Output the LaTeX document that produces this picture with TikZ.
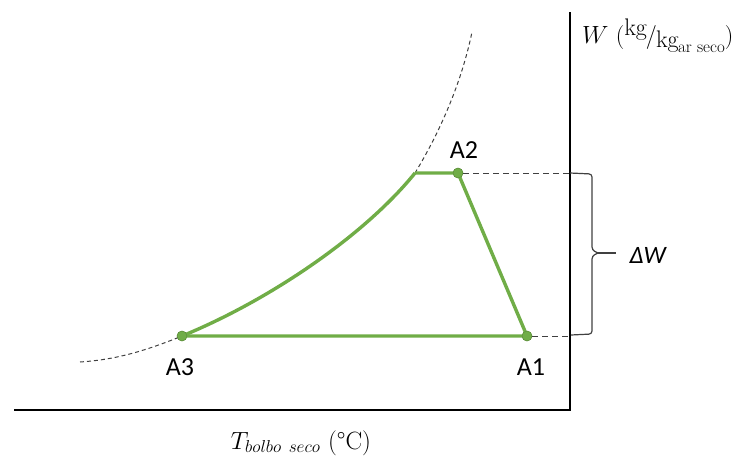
\documentclass[tikz,border=0pt]{standalone}
\usepackage{fontspec}
\setsansfont{Carlito}
\usepackage{amsmath}
\usetikzlibrary{positioning,calc}
\definecolor{leafgreen}{HTML}{70AD47}
\definecolor{dashgrey}{HTML}{404040}

\begin{document}
\begin{tikzpicture}[x=1pt,y=-1pt,
  axis/.style={line width=2.6pt,black},
  proc/.style={line width=3.4pt,draw=leafgreen,line join=round},
  sat/.style={line width=1pt,draw=dashgrey,dash pattern=on 4pt off 3pt},
  guide/.style={line width=1pt,draw=dashgrey,dash pattern=on 6pt off 4pt},
  pt/.style={circle,fill=leafgreen,draw=leafgreen!80!black,inner sep=0pt,minimum size=10pt},
  lbl/.style={font=\sffamily\fontsize{26}{30}\selectfont}
]
\useasboundingbox (0,0) rectangle (752,463);

% axes
\coordinate (O) at (570,410);
\coordinate (Ytop) at (570,12);
\coordinate (Xend) at (14,410);
\draw[axis] (Ytop) -- (O) -- (Xend);

% states
\node[pt] (A1) at (527,336) {};
\node[pt] (A2) at (458,173) {};
\node[pt] (A3) at (182,336) {};
\coordinate (S) at (415,173);
\coordinate (Slo) at (80,362);
\coordinate (Shi) at (472,32);

% saturation curve
\draw[sat] (Slo) .. controls (110,360) and (138,354) .. (A3.center);
\draw[sat] (S) .. controls (435,140) and (460,90) .. (Shi);

% process
\draw[proc] (A3.center) .. controls (270,300) and (365,235) .. (S);
\draw[proc] (S) -- (A2.center) -- (A1.center) -- (A3.center);
\node[pt] at (A1) {};
\node[pt] at (A2) {};
\node[pt] at (A3) {};

% guides to the axis
\coordinate (G2) at (570,173);
\coordinate (G1) at (570,336);
\draw[guide] (A2) -- (G2);
\draw[guide] (A1) -- (G1);

% brace
\draw[line width=1.2pt,dashgrey,rounded corners=3pt] (G2) -- (592,174) -- (592,250) -- (598,253);
\draw[line width=1.2pt,dashgrey,rounded corners=3pt] (598,253) -- (592,256) -- (592,334) -- (571,335);
\coordinate (Btip) at (598,253);
\coordinate (Bend) at (616,253);
\draw[line width=1.2pt,dashgrey] (Btip) -- (Bend);
\node[anchor=west,font=\sffamily\itshape\fontsize{25}{29}\selectfont] (dW) at (626,255) {ΔW};

% labels
\node[lbl] (lA2) at (464,150) {A2};
\node[lbl] (lA1) at (531,367) {A1};
\node[lbl] (lA3) at (180,367) {A3};
\node[anchor=west,inner sep=0pt,font=\fontsize{24}{28}\selectfont] (ylab) at (582,36)
  {$W$\ (\raisebox{8pt}{kg}\kern-1pt/\kern-1pt\raisebox{-4pt}{kg\kern-0.5pt\raisebox{-5pt}{\fontsize{17}{19}\selectfont ar seco}})};
\node[font=\fontsize{25}{29}\selectfont] (xlab) at (301,443)
  {$T_{bolbo\ seco}$ (\textdegree C)};
\end{tikzpicture}
\end{document}
